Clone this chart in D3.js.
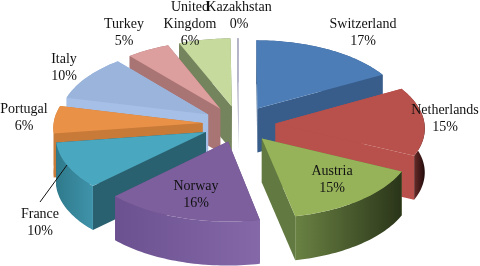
<!DOCTYPE html>
<html><head><meta charset="utf-8">
<style>html,body{margin:0;padding:0;background:#fff}svg{display:block;filter:blur(0.35px)}text{font-family:"Liberation Serif",serif;font-size:14px;fill:#111}</style>
<script src="https://cdnjs.cloudflare.com/ajax/libs/d3/7.8.5/d3.min.js"></script></head><body>
<script>
const categories=["Switzerland","Netherlands","Austria","Norway","France","Portugal","Italy","Turkey","United Kingdom","Kazakhstan"];
const values=[17,15,14.7,16,10,6,10,5,6,0.2];
const percentLabels=["17%","15%","15%","16%","10%","6%","10%","5%","6%","0%"];
const topColors=["#4c7db7","#b8504b","#97b35a","#7c5f9c","#4aa7c0","#ea9148","#9ab4dc","#dd9e9e","#c6da9e","#b4b4c8"];
const startWall=["#385d8a","#b8504b","#6a8243","#6a4f88","#2a6170","#c87a38","#a5bfe6","#a97474","#74845c","#b4b4c8"];
const endWall=["#385d8a","#b8504b","#627a42","#6a4f88","#2a6170","#c87a38","#a5bfe6","#a97474","#74845c","#b4b4c8"];
const rimStops=[["#385d8a","#385d8a"],["#b8504b","#220c0c"],["#6a8243","#2a3519"],["#6c5190","#8468a8"],["#2f7a8c","#3f93aa"],["#c87a38","#c87a38"],["#a5bfe6","#a5bfe6"],["#a97474","#a97474"],["#74845c","#74845c"],["#b4b4c8","#b4b4c8"]];
const drawOrder=[9,0,8,7,6,5,4,1,3,2];
const labelPos=[[363,24],[445,110],[332,171],[196,186],[40,214],[24,109],[64,59],[124,24],[190,7],[239,7]];

const W=480,H=266,explode=0.245,persp=0.055,depth=44;
const svg=d3.select("body").append("svg").attr("width",W).attr("height",H);
const defs=svg.append("defs");
const xs=d3.scaleLinear().domain([-1,1]).range([239-149,239+149]);
const ys=d3.scaleLinear().domain([-1,1]).range([124+74,124-74]);
const arcs=d3.pie().sort(null).value(d=>d)(values);
const line=d3.line();
function pt(r,a,mid,dy=0){
  const u=r*Math.sin(a)+explode*Math.sin(mid),v=r*Math.cos(a)+explode*Math.cos(mid),s=1-persp*v;
  return [xs(u*s),ys(v*s)+dy];
}
arcs.forEach((d,i)=>{
  const g=defs.append("linearGradient").attr("id","rim"+i);
  g.append("stop").attr("offset",0).attr("stop-color",rimStops[i][0]);
  g.append("stop").attr("offset",1).attr("stop-color",rimStops[i][1]);
});
drawOrder.forEach(i=>{
  const d=arcs[i],mid=(d.startAngle+d.endAngle)/2;
  const n=Math.max(2,Math.ceil((d.endAngle-d.startAngle)*40));
  const as=d3.range(n+1).map(k=>d.startAngle+(d.endAngle-d.startAngle)*k/n);
  const rim=as.map(a=>pt(1,a,mid));
  const rimLow=as.map(a=>pt(1,a,mid,depth)).reverse();
  const o=pt(0,0,mid),oLow=pt(0,0,mid,depth);
  const s=svg.append("g").attr("class","slice");
  s.append("path").attr("d",line([o,rim[0],pt(1,d.startAngle,mid,depth),oLow])+"Z").attr("fill",startWall[i]);
  s.append("path").attr("d",line([o,rim[n],pt(1,d.endAngle,mid,depth),oLow])+"Z").attr("fill",endWall[i]);
  s.append("path").attr("d",line(rim.concat(rimLow))+"Z").attr("fill",`url(#rim${i})`);
  s.append("path").attr("d",line([o].concat(rim))+"Z").attr("fill",topColors[i]);
});
const fr=categories.indexOf("France");
const lp=labelPos[fr];
svg.append("path").attr("d",line([[lp[0],lp[1]-12],[lp[0]+27,lp[1]-49]])).attr("stroke","#111").attr("stroke-width",1).attr("fill","none");
const breaks={"United Kingdom":["United","Kingdom"]};
categories.forEach((c,i)=>{
  const lines=(breaks[c]||[c]).concat(percentLabels[i]);
  const t=svg.append("text").attr("text-anchor","middle").attr("x",labelPos[i][0]).attr("y",labelPos[i][1]+4);
  lines.forEach((l,k)=>t.append("tspan").attr("x",labelPos[i][0]).attr("dy",k?17:0).text(l));
});
</script></body></html>
